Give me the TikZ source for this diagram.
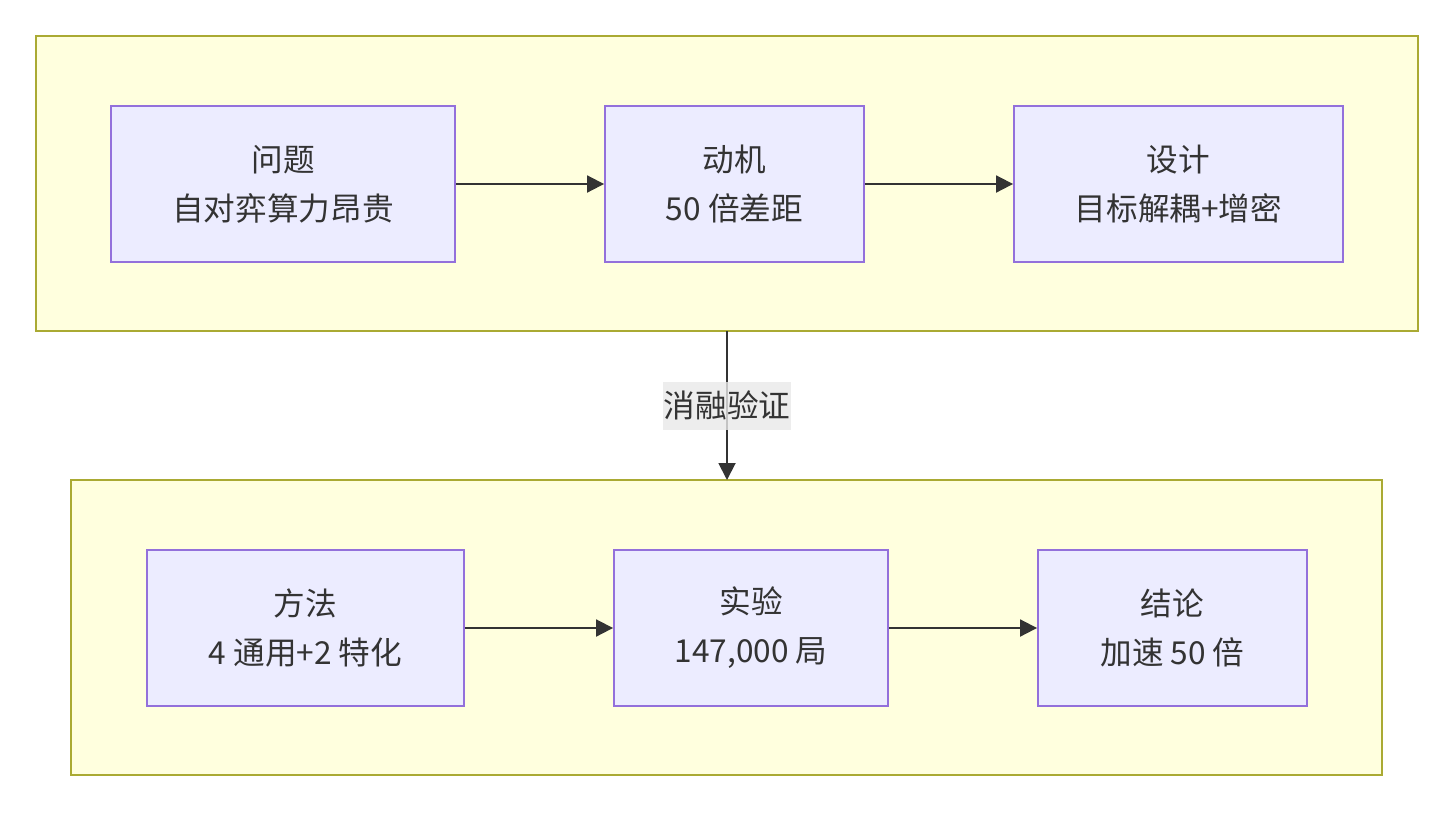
\documentclass[tikz,border=0pt]{standalone}
\usepackage{fontspec}
\setmainfont{Noto Sans CJK SC}
\usetikzlibrary{arrows.meta}
\definecolor{grpfill}{HTML}{FFFFDE}
\definecolor{grpline}{HTML}{AAAA33}
\definecolor{boxfill}{HTML}{ECECFF}
\definecolor{boxline}{HTML}{9370DB}
\definecolor{ink}{HTML}{333333}
\definecolor{lblfill}{HTML}{E8E8E8}
\tikzset{
  grp/.style={draw=grpline, fill=grpfill, line width=1.1pt, minimum height=5.9cm, inner sep=0pt},
  box/.style={draw=boxline, fill=boxfill, line width=1.1pt, minimum height=3.12cm, align=center, text=ink, inner sep=0pt},
  flow/.style={draw=ink, line width=1.1pt, -{Triangle[length=0.34cm,width=0.34cm]}},
}
\begin{document}
\begin{tikzpicture}[x=0.02cm, y=-0.02cm, font=\fontsize{18}{28}\selectfont]
  \useasboundingbox (0,0) rectangle (1454,812);
  % groups
  \node[grp, minimum width=27.64cm] (top) at (727,183.5) {};
  \node[grp, minimum width=26.22cm] (bot) at (726.5,627.5) {};
  % top row
  \node[box, minimum width=6.88cm] (wenti) at (283,184) {问题\\自对弈算力昂贵};
  \node[box, minimum width=5.18cm] (dongji) at (734.5,184) {动机\\50 倍差距};
  \node[box, minimum width=6.58cm] (sheji) at (1178.5,184) {设计\\目标解耦+增密};
  % bottom row
  \node[box, minimum width=6.34cm] (fangfa) at (305.5,628) {方法\\4 通用+2 特化};
  \node[box, minimum width=5.48cm] (shiyan) at (751,628) {实验\\147,000 局};
  \node[box, minimum width=5.38cm] (jielun) at (1172.5,628) {结论\\加速 50 倍};
  % arrows
  \draw[flow] (wenti) -- (dongji);
  \draw[flow] (dongji) -- (sheji);
  \draw[flow] (fangfa) -- (shiyan);
  \draw[flow] (shiyan) -- (jielun);
  \draw[flow] (727,331) -- (727,480) node[midway, fill=lblfill, fill opacity=0.8, text opacity=1, text=ink, minimum width=2.56cm, minimum height=0.96cm, inner sep=0pt] (xiaorong) {消融验证};
\end{tikzpicture}
\end{document}
